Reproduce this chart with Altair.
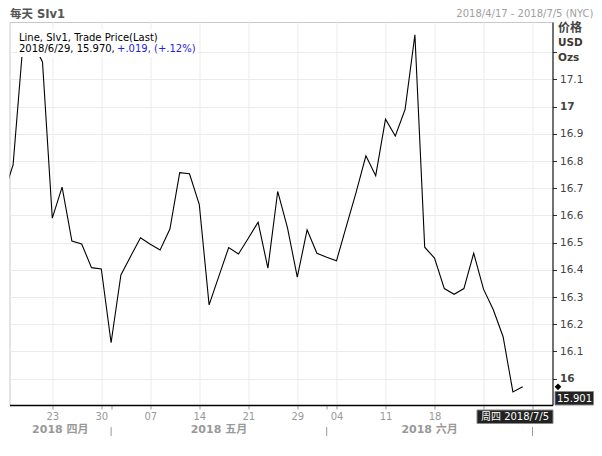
import altair as alt
import pandas as pd

# ---- data ----
dates = [
    "2018-04-16", "2018-04-17", "2018-04-18", "2018-04-19", "2018-04-20",
    "2018-04-23", "2018-04-24", "2018-04-25", "2018-04-26", "2018-04-27",
    "2018-04-30", "2018-05-01", "2018-05-02", "2018-05-03", "2018-05-04",
    "2018-05-07", "2018-05-08", "2018-05-09", "2018-05-10", "2018-05-11",
    "2018-05-14", "2018-05-15", "2018-05-16", "2018-05-17", "2018-05-18",
    "2018-05-21", "2018-05-22", "2018-05-23", "2018-05-24", "2018-05-25",
    "2018-05-29", "2018-05-30", "2018-05-31", "2018-06-01",
    "2018-06-04", "2018-06-05", "2018-06-06", "2018-06-07", "2018-06-08",
    "2018-06-11", "2018-06-12", "2018-06-13", "2018-06-14", "2018-06-15",
    "2018-06-18", "2018-06-19", "2018-06-20", "2018-06-21", "2018-06-22",
    "2018-06-25", "2018-06-26", "2018-06-27", "2018-06-28", "2018-06-29",
]
prices = [
    16.675, 16.786, 17.228, 17.236, 17.164,
    16.590, 16.704, 16.506, 16.495, 16.408,
    16.403, 16.132, 16.381, 16.450, 16.518,
    16.494, 16.473, 16.550, 16.757, 16.753,
    16.640, 16.271, 16.377, 16.482, 16.458,
    16.516, 16.575, 16.406, 16.688, 16.554,
    16.373, 16.547, 16.461, 16.446,
    16.433, 16.560, 16.685, 16.819, 16.746,
    16.954, 16.892, 16.990, 17.264, 16.483,
    16.443, 16.331, 16.310, 16.331, 16.461,
    16.329, 16.253, 16.154, 15.951, 15.970,
]

# trading-day index of tick marks and their labels
tick_idx = [5, 10, 15, 20, 25, 30, 34, 39, 44, 49, 54]
tick_lbl = ["23", "30", "07", "14", "21", "29", "04", "11", "18", "", ""]
month_bounds = [11, 33, 54]
month_names = ["2018 四月", "2018 五月", "2018 六月"]
y_ticks = [16.0, 16.1, 16.2, 16.3, 16.4, 16.5, 16.6, 16.7, 16.8, 16.9, 17.0, 17.1, 17.2]

x_min, x_max = 0.633, 56.04
y_min, y_max = 15.903, 17.311
last_price = 15.970
cross_price = "15.901"
cross_date = "周四 2018/7/5"

FONT = "DejaVu Sans, Noto Sans CJK SC"
W, H = 543, 383

df = pd.DataFrame({"idx": list(range(len(prices))), "date": dates, "price": prices})
one = pd.DataFrame({"a": [0]})

xs = alt.Scale(domain=[x_min, x_max], nice=False, zero=False)
ys = alt.Scale(domain=[y_min, y_max], nice=False, zero=False)

label_expr = " : ".join(
    f"datum.value == {v} ? '{l}'" for v, l in zip(tick_idx, tick_lbl)
) + " : ''"

x_axis = alt.Axis(
    values=tick_idx + month_bounds[:2],
    labelExpr=label_expr,
    orient="bottom",
    grid=True,
    gridColor="#ebebeb",
    gridOpacity={"condition": {"test": "datum.value == 11 || datum.value == 33", "value": 0}, "value": 1},
    domainColor="#000000",
    domainWidth=1.5,
    tickColor="#999999",
    tickSize=4,
    labelPadding=2,
    labelColor="#999999",
    labelFont=FONT,
    labelFontSize=10,
    labelBaseline="top",
    labelOverlap=False,
    labelFlush=False,
    title=None,
)

y_axis = alt.Axis(
    values=y_ticks,
    orient="right",
    labelExpr="datum.value > 17.15 ? '' : (abs(datum.value - 16) < 0.001 ? '16' : (abs(datum.value - 17) < 0.001 ? '17' : format(datum.value, '.1f')))",
    labelFontWeight={"condition": {"test": "abs(datum.value - 16) < 0.001 || abs(datum.value - 17) < 0.001", "value": "bold"}, "value": "normal"},
    grid=True,
    gridColor="#ebebeb",
    domainColor="#000000",
    domainWidth=1,
    tickColor="#333333",
    tickSize=4,
    labelPadding=3,
    labelColor="#444444",
    labelFont=FONT,
    labelFontSize=10.5,
    labelOverlap=False,
    labelFlush=False,
    title=None,
)

line = alt.Chart(df).mark_line(color="#000000", strokeWidth=1.1, clip=True).encode(
    x=alt.X("idx:Q", scale=xs, axis=x_axis),
    y=alt.Y("price:Q", scale=ys, axis=y_axis),
)

# white background of the in-plot legend
legend_bg = alt.Chart(one).mark_rect(color="#ffffff").encode(
    x=alt.value(7.5), x2=alt.value(188), y=alt.value(7), y2=alt.value(35)
)

def txt(s, x, y, size=10, color="#000000", weight="normal", align="left"):
    return alt.Chart(one).mark_text(
        text=s, align=align, baseline="middle", font=FONT, fontSize=size,
        color=color, fontWeight=weight,
    ).encode(x=alt.value(x), y=alt.value(y))

leg1 = txt("Line, SIv1, Trade Price(Last)", 9.5, 16)
leg2 = txt("2018/6/29, 15.970,", 9.5, 27)
leg3 = txt("+.019, (+.12%)", 107.5, 27, color="#2222dd")

header_l = txt("每天 SIv1", 0.5, -7.5, size=11.5, color="#555555", weight="bold")
header_r = txt("2018/4/17 - 2018/7/5 (NYC)", 584, -8, size=10, color="#a0a0a0", align="right")

unit1 = txt("价格", 548.5, 6, size=12, color="#444444", weight="bold")
unit2 = txt("USD", 548.5, 21, size=10.5, color="#403a30", weight="bold")
unit3 = txt("Ozs", 548.5, 36, size=10.5, color="#403a30", weight="bold")

# month labels and separators
bounds = [x_min] + month_bounds
mdf = pd.DataFrame({
    "name": month_names,
    "center": [(bounds[i] + bounds[i + 1]) / 2 for i in range(len(month_names))],
})
months = alt.Chart(mdf).mark_text(
    font=FONT, fontSize=11, fontWeight="bold", color="#999999", baseline="middle"
).encode(x=alt.X("center:Q", scale=xs, axis=x_axis), y=alt.value(408), text="name:N")

sdf = pd.DataFrame({"b": month_bounds})
seps = alt.Chart(sdf).mark_rule(color="#999999", strokeWidth=1).encode(
    x=alt.X("b:Q", scale=xs, axis=x_axis), y=alt.value(405), y2=alt.value(414)
)

# last price marker on the axis
ldf = pd.DataFrame({"p": [last_price]})
marker = alt.Chart(ldf).mark_point(
    shape="diamond", filled=True, color="#000000", size=45, opacity=1, clip=False
).encode(x=alt.value(W + 5.5), y=alt.Y("p:Q", scale=ys, axis=y_axis))

# crosshair labels
box_date = alt.Chart(one).mark_rect(color="#222222", stroke="#888888", strokeWidth=1).encode(
    x=alt.value(467.5), x2=alt.value(543.5), y=alt.value(388), y2=alt.value(401.5)
)
box_date_t = txt(cross_date, 505.5, 395, size=10, color="#ffffff", align="center")
box_val = alt.Chart(one).mark_rect(color="#222222", stroke="#888888", strokeWidth=1).encode(
    x=alt.value(545.5), x2=alt.value(584), y=alt.value(369.5), y2=alt.value(383)
)
box_val_t = txt(cross_price, 565, 376.5, size=10, color="#ffffff", align="center")

chart = alt.layer(
    line, legend_bg, leg1, leg2, leg3, header_l, header_r,
    unit1, unit2, unit3, months, seps, marker,
    box_date, box_date_t, box_val, box_val_t,
).resolve_scale(x="shared", y="shared").properties(
    width=W, height=H,
    autosize=alt.AutoSizeParams(type="none"),
    padding={"left": 1.5, "top": 14, "right": 41.5, "bottom": 37},
    background="#ffffff",
).configure_view(stroke="#c8c8c8", strokeWidth=1)

chart.save("out.html", embed_options={"renderer": "svg", "actions": False})
